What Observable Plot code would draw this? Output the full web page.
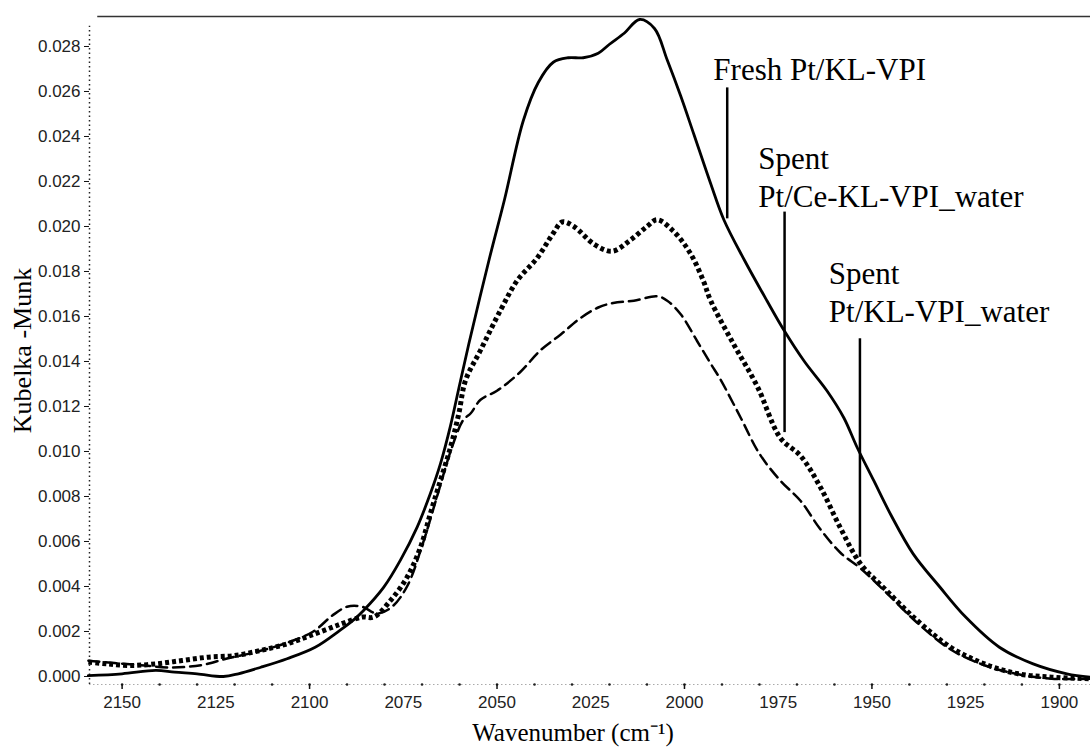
<!DOCTYPE html>
<html><head><meta charset="utf-8">
<script src="https://cdn.jsdelivr.net/npm/d3@7"></script>
<script src="https://cdn.jsdelivr.net/npm/@observablehq/plot@0.6"></script>
<style>html,body{margin:0;padding:0;background:#fff;} #chart svg{display:block;}</style>
</head><body><div id="chart"></div>
<script>
// Fresh Pt/KL-VPI (solid)
const freshWn  = [2159, 2150, 2141, 2136, 2130, 2123, 2119, 2113, 2106, 2098.5, 2092, 2088, 2085.6, 2080.2, 2075.8, 2071.3, 2067.8, 2065.1, 2062.4, 2060.2, 2057.5, 2052, 2048, 2043, 2039, 2035, 2031, 2027, 2023, 2020, 2016, 2012, 2008, 2004.6, 2001, 1997.5, 1993, 1989.5, 1984, 1978, 1973.5, 1968, 1962, 1957.5, 1954, 1949.5, 1945, 1939, 1932, 1925, 1916, 1907, 1898, 1891.7];
const freshVal = [0.00004, 0.00012, 0.00027, 0.00019, 0.00012, 0.0, 0.00012, 0.00041, 0.00079, 0.0013, 0.00204, 0.00255, 0.00293, 0.00397, 0.00516, 0.00664, 0.00812, 0.00945, 0.01115, 0.0128, 0.0148, 0.0186, 0.0212, 0.0247, 0.0264, 0.0273, 0.0275, 0.0275, 0.0277, 0.0281, 0.0286, 0.0292, 0.0288, 0.0274, 0.0258, 0.0241, 0.0219, 0.0203, 0.0185, 0.0167, 0.0154, 0.014, 0.0127, 0.0115, 0.0102, 0.0087, 0.0072, 0.00545, 0.004, 0.00264, 0.0013, 0.00056, 0.00012, -0.00003];

// Spent Pt/Ce-KL-VPI_water (heavy dotted)
const ceWn  = [2159, 2154, 2148, 2141, 2134, 2127, 2120, 2113, 2106, 2098.5, 2091.5, 2086, 2082.9, 2078.4, 2074, 2070.4, 2067.8, 2065.1, 2062.4, 2060.2, 2058.4, 2054.4, 2049, 2044.6, 2039.3, 2035, 2032.6, 2029.5, 2024, 2019.3, 2014.4, 2010, 2007.3, 2003, 1998.4, 1995, 1993, 1987, 1980.6, 1974.4, 1969, 1963.7, 1958.4, 1953, 1946, 1938, 1929, 1920, 1911, 1902, 1891.7];
const ceVal = [0.00064, 0.00056, 0.00049, 0.00056, 0.00071, 0.00086, 0.00093, 0.00116, 0.00145, 0.0019, 0.00234, 0.00264, 0.00264, 0.00338, 0.00441, 0.00575, 0.00723, 0.00871, 0.01019, 0.01168, 0.01316, 0.0145, 0.0163, 0.0176, 0.0186, 0.0197, 0.0202, 0.02, 0.0192, 0.0189, 0.0194, 0.02, 0.0203, 0.0198, 0.0188, 0.0176, 0.0167, 0.0148, 0.0129, 0.0106, 0.0098, 0.0084, 0.0066, 0.005, 0.0038, 0.0025, 0.0013, 0.00056, 0.00012, -0.00003, -0.0001];

// Spent Pt/KL-VPI_water (dashed)
const klWn  = [2159, 2152, 2145, 2137, 2129, 2122, 2114, 2106, 2099, 2094, 2090, 2086, 2082, 2078, 2074, 2070, 2066, 2062, 2059, 2057, 2054.4, 2050, 2044, 2038.4, 2033, 2028, 2023, 2019, 2013.5, 2007.3, 2004.6, 2001, 1996.6, 1993, 1990.4, 1985, 1980, 1974.4, 1969, 1964, 1958.4, 1953, 1946, 1938, 1929, 1920, 1911, 1902, 1891.7];
const klVal = [0.0007, 0.0006, 0.0005, 0.0004, 0.0005, 0.0008, 0.0011, 0.0015, 0.002, 0.0027, 0.0031, 0.0031, 0.0028, 0.0031, 0.004, 0.0058, 0.008, 0.0102, 0.0114, 0.0117, 0.0123, 0.0127, 0.0135, 0.0145, 0.0152, 0.0159, 0.0164, 0.0166, 0.0167, 0.0169, 0.0167, 0.0161, 0.0149, 0.0139, 0.0132, 0.0115, 0.0099, 0.0087, 0.0078, 0.0066, 0.0055, 0.0048, 0.0037, 0.0024, 0.0012, 0.0005, 0.0001, -0.0001, -0.0001];

// Annotations
const labelTexts = ["Fresh Pt/KL-VPI", "Spent\nPt/Ce-KL-VPI_water", "Spent\nPt/KL-VPI_water"];
const labelWn    = [1992.3, 1980.3, 1961.5];
const labelVal   = [0.02653, 0.02086, 0.01575];
const leaderWn   = [1988.6, 1973.3, 1953.2];
const leaderTop  = [0.02616, 0.02064, 0.01501];
const leaderBot  = [0.02034, 0.01084, 0.0053];

// Axis ticks
const xTickLabels = [2150, 2125, 2100, 2075, 2050, 2025, 2000, 1975, 1950, 1925, 1900];
const xMajorTicks = [2150, 2100, 2050, 2000, 1950, 1900];
const yTickLabels = [0, 0.002, 0.004, 0.006, 0.008, 0.010, 0.012, 0.014, 0.016, 0.018, 0.020, 0.022, 0.024, 0.026, 0.028];
const xTitle = "Wavenumber (cm\u207B\u00B9)";
const yTitle = "Kubelka -Munk";

const xDomain = [2158.7, 1891.7];
const yDomain = [-0.000356, 0.029333];

const toRows = (wn, val) => wn.map((w, i) => ({wn: w, val: val[i]}));
const fresh = toRows(freshWn, freshVal);
const ce = toRows(ceWn, ceVal);
const kl = toRows(klWn, klVal);
const labels = labelTexts.map((t, i) => ({text: t, wn: labelWn[i], val: labelVal[i]}));
const leaders = leaderWn.map((w, i) => ({wn: w, y1: leaderTop[i], y2: leaderBot[i]}));
const xMinor = d3.range(2150, 1899, -10);

const serif = "'Liberation Serif', 'Times New Roman', serif";

const chart = Plot.plot({
  width: 1090,
  height: 749,
  marginLeft: 89,
  marginRight: 0,
  marginTop: 16,
  marginBottom: 65,
  style: {background: "white", color: "#111", fontSize: "17px", fontFamily: "'Liberation Sans', Arial, sans-serif"},
  x: {domain: xDomain, label: null},
  y: {domain: yDomain, label: null},
  marks: [
    // frame pieces
    Plot.ruleY([yDomain[1]], {x1: 2156.5, x2: xDomain[1], stroke: "#333", strokeWidth: 1.5}),
    Plot.ruleX([xDomain[0]], {y1: yDomain[0], y2: 0.0289, stroke: "#222", strokeWidth: 1.5, strokeDasharray: "1.5,3"}),
    Plot.ruleY([yDomain[0]], {stroke: "#aaa", strokeWidth: 1, strokeDasharray: "1.5,2.5"}),
    Plot.dot(xMinor, {x: d => d, y: yDomain[0], r: 1.3, fill: "#222", stroke: null}),
    Plot.axisX({ticks: xMajorTicks, tickSize: 5, tickFormat: () => "", strokeWidth: 1.5}),
    Plot.axisX({ticks: xTickLabels, tickSize: 0, tickPadding: 11, tickFormat: "d", fontSize: 17, fill: "#222"}),
    Plot.axisY({ticks: yTickLabels, tickSize: 5, tickPadding: 4, tickFormat: d3.format(".3f"), fontSize: 17, fill: "#222"}),
    // curves
    Plot.line(kl, {x: "wn", y: "val", curve: "catmull-rom", stroke: "black", strokeWidth: 2.5, strokeDasharray: "11,6"}),
    Plot.line(ce, {x: "wn", y: "val", curve: "catmull-rom", stroke: "black", strokeWidth: 5, strokeDasharray: "4,3", strokeLinecap: "butt"}),
    Plot.line(fresh, {x: "wn", y: "val", curve: "catmull-rom", stroke: "black", strokeWidth: 2.8}),
    // annotations
    Plot.ruleX(leaders, {x: "wn", y1: "y1", y2: "y2", stroke: "black", strokeWidth: 2.5}),
    Plot.text(labels, {x: "wn", y: "val", text: "text", textAnchor: "start", lineAnchor: "bottom", lineHeight: 1.24, fontSize: 31, fontFamily: serif, fill: "black"}),
    // axis titles
    Plot.text([xTitle], {frameAnchor: "bottom", dy: 48, dx: -17, textAnchor: "middle", lineAnchor: "middle", fontSize: 25, fontFamily: serif, fill: "black"}),
    Plot.text([yTitle], {frameAnchor: "left", dx: -67, rotate: -90, textAnchor: "middle", lineAnchor: "middle", fontSize: 26, fontFamily: serif, fill: "black"})
  ]
});
document.getElementById("chart").appendChild(chart);
</script>
</body></html>
